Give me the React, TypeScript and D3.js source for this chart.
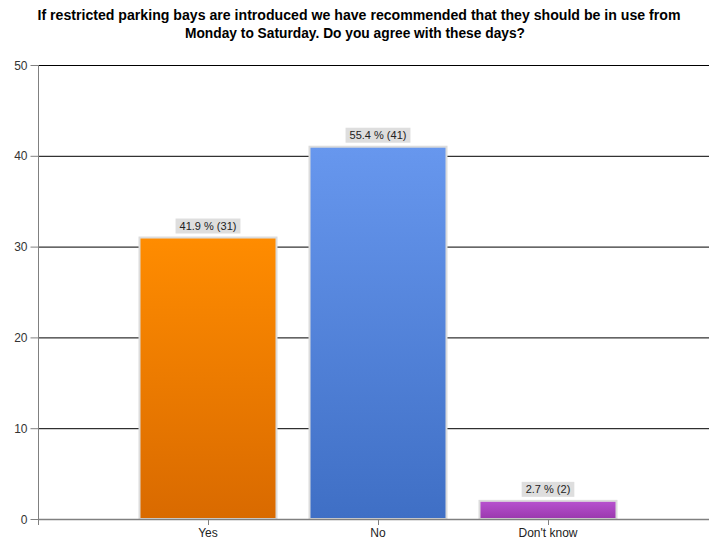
import React, { useEffect, useRef } from "react";
import * as d3 from "d3";

const categories = ["Yes", "No", "Don't know"];
const counts = [31, 41, 2];
const percents = [41.9, 55.4, 2.7];
const yTicks = [0, 10, 20, 30, 40, 50];
const colorTop = ["#ff8c00", "#6797ee", "#b852d0"];
const colorBottom = ["#d96a00", "#3f6fc5", "#9a38ad"];
const titleLines = [
  "If restricted parking bays are introduced we have recommended that they should be in use from",
  "Monday to Saturday. Do you agree with these days?",
];
const titleWidths = [643, 340];

const W = 709;
const H = 540;

export default function App() {
  const ref = useRef<SVGSVGElement>(null);

  useEffect(() => {
    const svg = d3.select(ref.current);
    svg.selectAll("*").remove();

    const left = 38;
    const top = 65;
    const bottom = 519;

    const x = d3.scalePoint<string>().domain(categories).range([left, 718]).padding(1);
    const y = d3.scaleLinear().domain([0, 50]).range([bottom, top]);
    const barW = 137;

    const defs = svg.append("defs");
    categories.forEach((_, i) => {
      const g = defs
        .append("linearGradient")
        .attr("id", `grad${i}`)
        .attr("x1", 0)
        .attr("y1", 0)
        .attr("x2", 0)
        .attr("y2", 1);
      g.append("stop").attr("offset", "0%").attr("stop-color", colorTop[i]);
      g.append("stop").attr("offset", "100%").attr("stop-color", colorBottom[i]);
    });

    // title, two centred condensed lines
    const title = svg
      .append("text")
      .attr("text-anchor", "middle")
      .attr("font-family", "Liberation Sans, Arial, sans-serif")
      .attr("font-weight", "bold")
      .attr("font-size", 14)
      .attr("fill", "#000");
    titleLines.forEach((t, i) => {
      title
        .append("tspan")
        .attr("x", i === 0 ? 359 : 355)
        .attr("y", 20 + i * 18)
        .attr("textLength", titleWidths[i])
        .attr("lengthAdjust", "spacingAndGlyphs")
        .text(t);
    });

    // gridlines
    svg
      .append("g")
      .selectAll("line")
      .data(yTicks.filter((d) => d > 0))
      .join("line")
      .attr("x1", left)
      .attr("x2", W)
      .attr("y1", (d) => y(d) + 0.5)
      .attr("y2", (d) => y(d) + 0.5)
      .attr("stroke", "#000")
      .attr("stroke-width", 1);

    // bars
    svg
      .append("g")
      .selectAll("rect")
      .data(categories)
      .join("rect")
      .attr("x", (d) => (x(d) as number) - barW / 2)
      .attr("y", (_, i) => y(counts[i]))
      .attr("width", barW)
      .attr("height", (_, i) => bottom - y(counts[i]))
      .attr("fill", (_, i) => `url(#grad${i})`)
      .attr("stroke", "#dcdcdc")
      .attr("stroke-width", 2);

    // value labels
    const lab = svg.append("g");
    categories.forEach((c, i) => {
      const cx = x(c) as number;
      const ty = y(counts[i]) - 8;
      const txt = `${percents[i]} % (${counts[i]})`;
      const t = lab
        .append("text")
        .attr("x", cx)
        .attr("y", ty)
        .attr("text-anchor", "middle")
        .attr("font-family", "Liberation Sans, Arial, sans-serif")
        .attr("font-size", 11)
        .attr("fill", "#222")
        .text(txt);
      const bb = (t.node() as SVGTextElement).getBBox();
      lab
        .insert("rect", "text")
        .attr("x", bb.x - 4)
        .attr("y", ty - 11)
        .attr("width", bb.width + 8)
        .attr("height", 15)
        .attr("fill", "#dedede");
    });

    // y axis
    const ya = svg.append("g").attr("transform", `translate(${left + 0.5},0)`);
    ya.append("line").attr("y1", top).attr("y2", bottom + 6).attr("stroke", "#808080");
    ya.selectAll("line.tick")
      .data(yTicks)
      .join("line")
      .attr("class", "tick")
      .attr("x1", -8)
      .attr("x2", 0)
      .attr("y1", (d) => y(d) + 0.5)
      .attr("y2", (d) => y(d) + 0.5)
      .attr("stroke", "#808080");
    ya.selectAll("text")
      .data(yTicks)
      .join("text")
      .attr("x", -11)
      .attr("y", (d) => y(d) + 4.5)
      .attr("text-anchor", "end")
      .attr("font-family", "Liberation Sans, Arial, sans-serif")
      .attr("font-size", 12)
      .attr("fill", "#333")
      .text((d) => d);

    // x axis
    const xa = svg.append("g");
    xa.append("line")
      .attr("x1", left)
      .attr("x2", W)
      .attr("y1", bottom + 0.5)
      .attr("y2", bottom + 0.5)
      .attr("stroke", "#808080")
      .attr("stroke-width", 1.5);
    xa.selectAll("line.tick")
      .data(categories)
      .join("line")
      .attr("class", "tick")
      .attr("x1", (d) => (x(d) as number) + 0.5)
      .attr("x2", (d) => (x(d) as number) + 0.5)
      .attr("y1", bottom)
      .attr("y2", bottom + 6)
      .attr("stroke", "#808080");
    xa.selectAll("text")
      .data(categories)
      .join("text")
      .attr("x", (d) => x(d) as number)
      .attr("y", bottom + 18)
      .attr("text-anchor", "middle")
      .attr("font-family", "Liberation Sans, Arial, sans-serif")
      .attr("font-size", 12)
      .attr("fill", "#222")
      .text((d) => d);
  }, []);

  return (
    <svg
      ref={ref}
      width={W}
      height={H}
      style={{ position: "absolute", left: 0, top: 0, background: "#fff" }}
    />
  );
}
